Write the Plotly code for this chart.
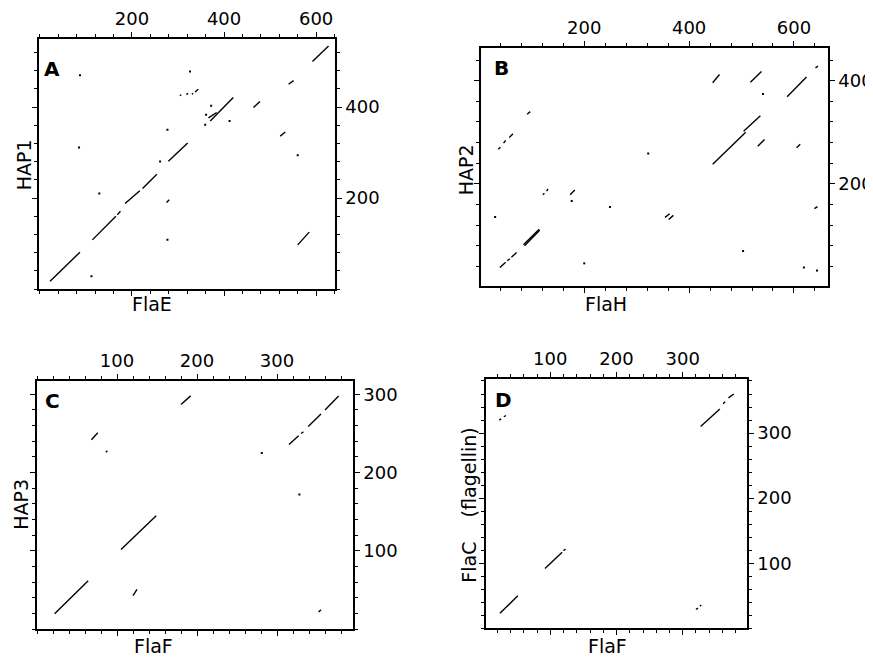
import plotly.graph_objects as go

# The page body has an 8px margin, so the figure is drawn 8px smaller and all
# reference pixel positions are shifted by that offset.
OFF = 8
W, H = 873 - OFF, 658 - OFF

# ---------------- data: diagonal match segments (x0, y0, x1, y1) ----------------
A_segments = [
    (22, 17, 87, 81), (114, 108, 165, 160), (168, 163, 175, 171),
    (185, 188, 217, 216), (223, 221, 254, 252), (279, 281, 321, 321),
    (370, 369, 420, 421), (366, 376, 384, 388), (464, 399, 478, 412),
    (522, 336, 533, 345), (540, 450, 551, 458), (592, 500, 627, 534),
    (560, 97, 585, 125), (275, 190, 281, 196),
    (304, 425, 307, 427), (318, 428, 322, 430), (330, 428, 333, 430), (337, 433, 344, 439),
]
A_dots_x = [87, 85, 129, 277, 112, 277, 326, 412, 359, 372, 560, 361, 261]
A_dots_y = [470, 311, 210, 108, 28, 350, 478, 369, 361, 403, 294, 383, 280]

B_segments = [
    (39, 38, 50, 48), (53, 51, 58, 55), (61, 58, 71, 67),
    (84, 82, 114, 112), (86, 80, 115, 110),
    (121, 179, 124, 182), (128, 186, 131, 190),
    (173, 179, 182, 188),
    (36, 267, 40, 271), (46, 279, 50, 284), (57, 290, 64, 297),
    (91, 335, 97, 340),
    (354, 135, 363, 142), (361, 131, 370, 139),
    (445, 238, 508, 300), (504, 302, 536, 332),
    (531, 273, 544, 286), (445, 396, 458, 412), (517, 397, 538, 418),
    (587, 369, 624, 407), (605, 270, 612, 277), (641, 425, 646, 428),
    (639, 152, 645, 156),
]
B_dots_x = [30, 200, 249, 322, 503, 619, 644, 541, 176]
B_dots_y = [136, 46, 155, 259, 70, 38, 32, 374, 167]

C_segments = [
    (22, 20, 64, 62), (105, 102, 149, 145), (120, 43, 125, 51),
    (68, 242, 76, 251), (86, 226, 88, 228), (180, 287, 192, 298),
    (315, 236, 327, 247), (330, 250, 333, 252), (339, 259, 355, 275), (360, 280, 377, 298),
    (352, 22, 355, 25),
]
C_dots_x = [281, 328]
C_dots_y = [225, 172]

D_segments = [
    (24, 23, 51, 50), (92, 92, 118, 117), (120, 119, 123, 122),
    (23, 320, 26, 322), (30, 325, 33, 327),
    (327, 310, 356, 337), (361, 345, 364, 348), (369, 354, 377, 360),
    (320, 29, 323, 31), (326, 34, 328, 36),
]
D_dots_x = []
D_dots_y = []

# tick labels
A_xticks, A_yticks = [200, 400, 600], [200, 400]
B_xticks, B_yticks = [200, 400, 600], [200, 400]
C_xticks, C_yticks = [100, 200, 300], [100, 200, 300]
D_xticks, D_yticks = [100, 200, 300], [100, 200, 300]

panels = [
    dict(seg=A_segments, dx=A_dots_x, dy=A_dots_y, xt=A_xticks, yt=A_yticks,
         xr=[-2, 641], yr=[0, 550], minor=40, dom_px=(39, 335, 32, 285)),
    dict(seg=B_segments, dx=B_dots_x, dy=B_dots_y, xt=B_xticks, yt=B_yticks,
         xr=[3, 665], yr=[2, 464], minor=40, dom_px=(481, 828, 41, 282)),
    dict(seg=C_segments, dx=C_dots_x, dy=C_dots_y, xt=C_xticks, yt=C_yticks,
         xr=[0, 395], yr=[0, 317], minor=20, dom_px=(37, 353, 378, 629)),
    dict(seg=D_segments, dx=D_dots_x, dy=D_dots_y, xt=D_xticks, yt=D_yticks,
         xr=[3, 397], yr=[0, 383], minor=20, dom_px=(486, 747, 376, 628)),
]

fig = go.Figure()
layout = {}
FONT = "DejaVu Sans"

def name(prefix, n):
    return prefix if n == 1 else f"{prefix}{n}"

for i, p in enumerate(panels, start=1):
    j = i + 4  # overlay axes carrying the bottom / left ticks
    xa, ya = name("x", i), name("y", i)
    xb, yb = name("x", j), name("y", j)
    xs, ys = [], []
    for (x0, y0, x1, y1) in p["seg"]:
        xs += [x0, x1, None]
        ys += [y0, y1, None]
    fig.add_trace(go.Scatter(x=xs, y=ys, mode="lines", xaxis=xa, yaxis=ya,
                             line=dict(color="black", width=1.4),
                             showlegend=False, hoverinfo="skip"))
    if p["dx"]:
        fig.add_trace(go.Scatter(x=p["dx"], y=p["dy"], mode="markers", xaxis=xa, yaxis=ya,
                                 marker=dict(color="black", size=2, symbol="square"),
                                 showlegend=False, hoverinfo="skip"))
    fig.add_trace(go.Scatter(x=[None], y=[None], mode="markers", xaxis=xb, yaxis=yb,
                             showlegend=False, hoverinfo="skip"))
    l, r, t, b = [v - OFF for v in p["dom_px"]]
    minor = dict(ticks="outside", ticklen=3, tickcolor="black", tickwidth=1,
                 tickmode="linear", tick0=0, dtick=p["minor"], showgrid=False)
    common = dict(showline=True, linecolor="black", linewidth=1.5, mirror=False,
                  ticks="outside", ticklen=5, tickwidth=1, tickcolor="black",
                  showgrid=False, zeroline=False, fixedrange=True,
                  tickfont=dict(family=FONT, size=18, color="black"),
                  tickmode="array", minor=minor)
    xdom = [l / W, r / W]
    ydom = [1 - b / H, 1 - t / H]
    layout["xaxis" if i == 1 else f"xaxis{i}"] = dict(
        common, domain=xdom, range=p["xr"], tickvals=p["xt"], side="top", anchor=ya)
    layout["yaxis" if i == 1 else f"yaxis{i}"] = dict(
        common, domain=ydom, range=p["yr"], tickvals=p["yt"], side="right", anchor=xa)
    layout[f"xaxis{j}"] = dict(
        common, domain=xdom, range=p["xr"], tickvals=p["xt"], showticklabels=False,
        side="bottom", overlaying=xa, anchor=ya)
    layout[f"yaxis{j}"] = dict(
        common, domain=ydom, range=p["yr"], tickvals=p["yt"], showticklabels=False,
        side="left", overlaying=ya, anchor=xa)

ann = []
def txt(s, x, y, size, bold=False, angle=0):
    ann.append(dict(text=f"<b>{s}</b>" if bold else s, x=(x - OFF) / W, y=1 - (y - OFF) / H,
                    xref="paper", yref="paper", showarrow=False, textangle=angle,
                    xanchor="center", yanchor="middle",
                    font=dict(family=FONT, size=size, color="black")))

txt("A", 52, 63, 20, bold=True)
txt("B", 501, 62, 20, bold=True)
txt("C", 52, 398, 20, bold=True)
txt("D", 503, 397, 20, bold=True)
txt("FlaE", 152, 300, 19)
txt("FlaH", 606, 300, 19)
txt("FlaF", 153, 646, 19)
txt("FlaF", 607, 646, 19)
txt("HAP1", 24, 160, 19, angle=-90)
txt("HAP2", 466, 164, 19, angle=-90)
txt("HAP3", 21, 503, 19, angle=-90)
txt("FlaC\u00a0\u00a0\u00a0\u00a0(flagellin)", 469, 504, 19, angle=-90)

fig.update_layout(width=W, height=H, margin=dict(l=0, r=0, t=0, b=0),
                  paper_bgcolor="white", plot_bgcolor="white",
                  annotations=ann, **layout)

fig.write_html("out.html")
